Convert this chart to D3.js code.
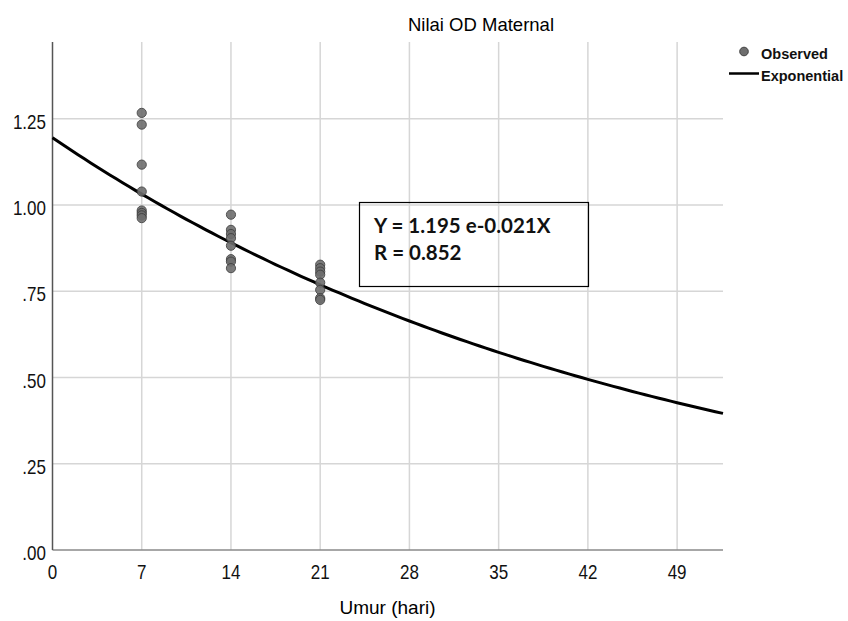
<!DOCTYPE html>
<html>
<head>
<meta charset="utf-8">
<script src="https://cdn.jsdelivr.net/npm/d3@7"></script>
<style>
  body { margin: 0; background: #fff; }
  svg { display: block; }
  .grid line { stroke: #d6d6d6; stroke-width: 1.5; }
  .tick-label { font-family: "Liberation Sans", Arial, sans-serif; font-size: 20px; fill: #111; }
</style>
</head>
<body>
<svg class="chart" width="848" height="621"></svg>
<script>
// observed values per day (umur)
const days = [7, 14, 21];
const obs7 = [1.267, 1.233, 1.117, 1.039, 0.984, 0.977, 0.970, 0.962];
const obs14 = [0.972, 0.928, 0.916, 0.904, 0.882, 0.843, 0.836, 0.817];
const obs21 = [0.827, 0.817, 0.807, 0.798, 0.775, 0.754, 0.730, 0.725];
const xTicks = [0, 7, 14, 21, 28, 35, 42, 49];
const yTicks = [0, 0.25, 0.5, 0.75, 1.0, 1.25];
const yTickLabels = [".00", ".25", ".50", ".75", "1.00", "1.25"];
const fitA = 1.195, fitB = -0.021, fitR = 0.852;

const points = [];
[obs7, obs14, obs21].forEach((vals, i) => {
  vals.forEach(v => points.push({ x: days[i], y: v }));
});

const svg = d3.select("svg.chart");

const x = d3.scaleLinear().domain([0, 52.6]).range([52.5, 723]);
const y = d3.scaleLinear().domain([0, 1.4725]).range([550, 42]);

// gridlines
svg.append("g")
  .attr("class", "grid")
  .selectAll("line")
  .data(xTicks.filter(d => d > 0))
  .enter().append("line")
  .attr("x1", d => x(d)).attr("x2", d => x(d))
  .attr("y1", y.range()[1]).attr("y2", y.range()[0]);

svg.append("g")
  .attr("class", "grid")
  .selectAll("line")
  .data(yTicks.filter(d => d > 0))
  .enter().append("line")
  .attr("x1", x.range()[0]).attr("x2", x.range()[1])
  .attr("y1", d => y(d)).attr("y2", d => y(d));

// axis lines
svg.append("line")
  .attr("x1", x.range()[0]).attr("x2", x.range()[1])
  .attr("y1", y(0)).attr("y2", y(0))
  .attr("stroke", "#8a8a8a").attr("stroke-width", 1.5);
svg.append("line")
  .attr("x1", x(0)).attr("x2", x(0))
  .attr("y1", y.range()[1]).attr("y2", y(0))
  .attr("stroke", "#555").attr("stroke-width", 1.5);

// tick labels (condensed, like the SPSS export)
svg.append("g")
  .selectAll("text")
  .data(yTicks)
  .enter().append("text")
  .attr("class", "tick-label")
  .attr("transform", d => "translate(46," + (y(d) + 10) + ") scale(0.85,1)")
  .attr("text-anchor", "end")
  .text((d, i) => yTickLabels[i]);

svg.append("g")
  .selectAll("text")
  .data(xTicks)
  .enter().append("text")
  .attr("class", "tick-label")
  .attr("transform", d => "translate(" + x(d) + "," + (y(0) + 29) + ") scale(0.85,1)")
  .attr("text-anchor", "middle")
  .text(d => d);

// fitted exponential curve
const curveX = d3.range(0, 52.6, 0.5).concat([52.6]);
const line = d3.line()
  .x(d => x(d))
  .y(d => y(fitA * Math.exp(fitB * d)));

svg.append("path")
  .datum(curveX)
  .attr("fill", "none")
  .attr("stroke", "#000")
  .attr("stroke-width", 3)
  .attr("d", line);

// observed points
svg.append("g")
  .selectAll("circle")
  .data(points)
  .enter().append("circle")
  .attr("cx", d => x(d.x))
  .attr("cy", d => y(d.y))
  .attr("r", 4.6)
  .attr("fill", "#6e6e6e")
  .attr("stroke", "#404040")
  .attr("stroke-width", 1)
  .attr("opacity", 0.9);

// equation box
svg.append("rect")
  .attr("x", 359.5).attr("y", 202.5)
  .attr("width", 229).attr("height", 84)
  .attr("fill", "none")
  .attr("stroke", "#000")
  .attr("stroke-width", 1.2);

const eq = svg.append("g")
  .style("font-family", "Lato, 'Open Sans', sans-serif")
  .style("font-weight", "bold")
  .style("font-size", "20.5px")
  .attr("fill", "#111");
eq.append("text").attr("x", 374).attr("y", 233).text("Y = " + fitA + " e" + fitB + "X");
eq.append("text").attr("x", 374).attr("y", 260).text("R = " + fitR);

// title
svg.append("text")
  .attr("x", 481).attr("y", 31)
  .attr("text-anchor", "middle")
  .style("font-family", "'Liberation Sans', Arial, sans-serif")
  .style("font-size", "18.5px")
  .attr("fill", "#000")
  .text("Nilai OD Maternal");

// x axis title
svg.append("text")
  .attr("x", 387.5).attr("y", 614)
  .attr("text-anchor", "middle")
  .style("font-family", "'Liberation Sans', Arial, sans-serif")
  .style("font-size", "19px")
  .attr("fill", "#000")
  .text("Umur (hari)");

// legend
const legend = svg.append("g")
  .style("font-family", "'Liberation Sans', Arial, sans-serif")
  .style("font-weight", "bold")
  .style("font-size", "14.5px")
  .attr("fill", "#111");
legend.append("circle")
  .attr("cx", 744).attr("cy", 51.5).attr("r", 4.3)
  .attr("fill", "#6e6e6e").attr("stroke", "#404040");
legend.append("text").attr("x", 761).attr("y", 59).text("Observed");
legend.append("line")
  .attr("x1", 729).attr("x2", 759)
  .attr("y1", 73.5).attr("y2", 73.5)
  .attr("stroke", "#000").attr("stroke-width", 2.5);
legend.append("text").attr("x", 761).attr("y", 81).text("Exponential");
</script>
</body>
</html>
